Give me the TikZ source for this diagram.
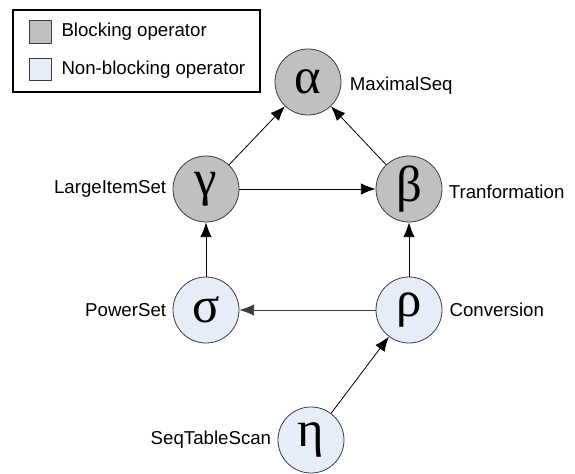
\documentclass[tikz,border=0pt]{standalone}
\usepackage{fontspec}
\setmainfont{Liberation Sans}
\newfontfamily\greekfont{Liberation Serif}
\usetikzlibrary{positioning,arrows.meta}

\definecolor{blockgray}{RGB}{192,192,192}
\definecolor{nonblockblue}{RGB}{230,237,248}
\definecolor{rimgray}{RGB}{60,60,60}

\tikzset{every picture/.style={line width=0.75pt}}
\tikzset{
  op/.style={circle, draw=rimgray, line width=0.6pt, minimum size=49.5pt, inner sep=0pt,
    font=\greekfont\fontsize{38}{38}\selectfont},
  blockop/.style={op, fill=blockgray},
  nonblockop/.style={op, fill=nonblockblue},
  lbl/.style={font=\fontsize{14}{16}\selectfont, inner sep=0pt},
  swatch/.style={draw=rimgray, line width=0.6pt, minimum size=17pt, inner sep=0pt},
  flow/.style={-{Latex[length=11pt,width=8.5pt]}, line width=0.6pt}
}

\begin{document}
\begin{tikzpicture}[x=0.75pt,y=0.75pt,yscale=-1,xscale=1]
	\useasboundingbox (0,0) rectangle (575,474);

	% Legend
	\draw [line width=0.9pt] (13,10) rectangle (260,92);
	\node [swatch, fill=blockgray] (keyblock) at (40.5,32) {};
	\node [swatch, fill=nonblockblue] (keynonblock) at (40.5,69.5) {};
	\node [lbl, anchor=west] at (61,32) {Blocking operator};
	\node [lbl, anchor=west] at (61,69.5) {Non-blocking operator};

	% Operators
	\node [blockop] (alpha) at (308,82) {α};
	\node [blockop] (gamma) at (206,189) {γ};
	\node [blockop] (beta) at (409,189) {β};
	\node [nonblockop] (sigma) at (206,310) {σ};
	\node [nonblockop] (rho) at (409,310) {ρ};
	\node [nonblockop] (eta) at (311,440) {η};

	% Text Node
	\node [lbl, right=6pt of alpha, yshift=-3pt] {MaximalSeq};
	\node [lbl, left=4.5pt of gamma] {LargeItemSet};
	\node [lbl, right=4.5pt of beta, yshift=-2pt] {Tranformation};
	\node [lbl, left=4.5pt of sigma] {PowerSet};
	\node [lbl, right=5pt of rho] {Conversion};
	\node [lbl, left=4.5pt of eta] {SeqTableScan};

	% Arrows
	\draw [flow] (gamma) -- (alpha);
	\draw [flow] (beta) -- (alpha);
	\draw [flow] (gamma) -- (beta);
	\draw [flow] (sigma) -- (gamma);
	\draw [flow] (rho) -- (beta);
	\draw [flow, draw=rimgray] (rho) -- (sigma);
	\draw [flow] (eta) -- (rho);

\end{tikzpicture}
\end{document}
